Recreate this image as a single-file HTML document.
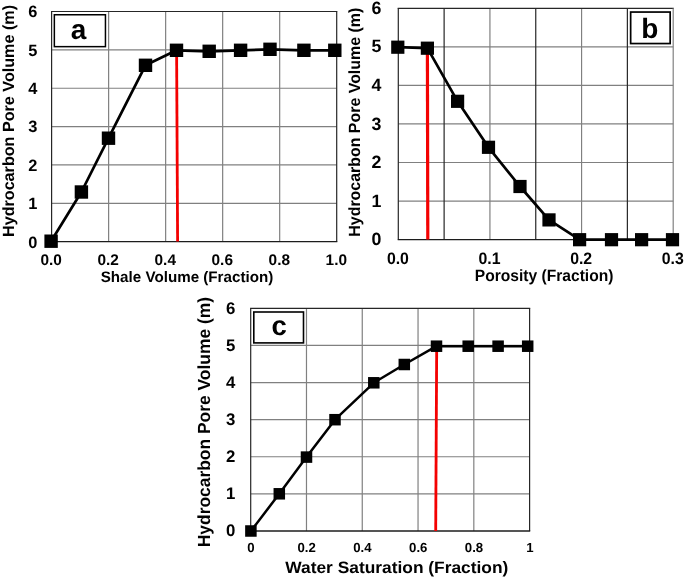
<!DOCTYPE html>
<html><head><meta charset="utf-8"><title>Figure</title>
<style>
html,body{margin:0;padding:0;background:#fff;}
body{width:685px;height:578px;overflow:hidden;}
svg{display:block;will-change:transform;opacity:0.999}
text{font-family:"Liberation Sans",sans-serif;font-weight:bold;fill:#000;text-rendering:geometricPrecision}
</style></head><body>
<svg width="685" height="578" viewBox="0 0 685 578">
<rect width="685" height="578" fill="#fff"/>

<g id="pa">
<line x1="51.6" x2="336.7" y1="203.33" y2="203.33" stroke="#808080" stroke-width="1.2"/>
<line x1="51.6" x2="336.7" y1="164.97" y2="164.97" stroke="#808080" stroke-width="1.2"/>
<line x1="51.6" x2="336.7" y1="126.60" y2="126.60" stroke="#808080" stroke-width="1.2"/>
<line x1="51.6" x2="336.7" y1="88.23" y2="88.23" stroke="#808080" stroke-width="1.2"/>
<line x1="51.6" x2="336.7" y1="49.87" y2="49.87" stroke="#808080" stroke-width="1.2"/>
<line x1="108.62" x2="108.62" y1="11.5" y2="241.7" stroke="#808080" stroke-width="1.2"/>
<line x1="165.64" x2="165.64" y1="11.5" y2="241.7" stroke="#808080" stroke-width="1.2"/>
<line x1="222.66" x2="222.66" y1="11.5" y2="241.7" stroke="#808080" stroke-width="1.2"/>
<line x1="279.68" x2="279.68" y1="11.5" y2="241.7" stroke="#808080" stroke-width="1.2"/>
<line x1="51.0" x2="337.3" y1="11.5" y2="11.5" stroke="#262626" stroke-width="1.2"/>
<line x1="336.7" x2="336.7" y1="11.5" y2="241.7" stroke="#262626" stroke-width="1.2"/>
<line x1="51.6" x2="51.6" y1="11.5" y2="241.7" stroke="#262626" stroke-width="1.2"/>
<line x1="51.0" x2="337.3" y1="241.7" y2="241.7" stroke="#1c1c1c" stroke-width="1.3"/>
<line x1="176.6" y1="50" x2="177.6" y2="241.5" stroke="#f40000" stroke-width="2.8"/>
<polyline points="51.1,241.2 81.4,192.0 108.5,138.2 145.5,65.3 176.5,50.3 209.2,51.3 240.6,50.3 270.0,49.3 303.9,50.3 334.8,50.3" fill="none" stroke="#000" stroke-width="2.7" stroke-linejoin="round"/>
<rect x="44.40" y="234.50" width="13.4" height="13.4" fill="#000"/>
<rect x="74.70" y="185.30" width="13.4" height="13.4" fill="#000"/>
<rect x="101.80" y="131.50" width="13.4" height="13.4" fill="#000"/>
<rect x="138.80" y="58.60" width="13.4" height="13.4" fill="#000"/>
<rect x="169.80" y="43.60" width="13.4" height="13.4" fill="#000"/>
<rect x="202.50" y="44.60" width="13.4" height="13.4" fill="#000"/>
<rect x="233.90" y="43.60" width="13.4" height="13.4" fill="#000"/>
<rect x="263.30" y="42.60" width="13.4" height="13.4" fill="#000"/>
<rect x="297.20" y="43.60" width="13.4" height="13.4" fill="#000"/>
<rect x="328.10" y="43.60" width="13.4" height="13.4" fill="#000"/>
<rect x="54.35" y="14.75" width="51.1" height="31.9" fill="#fff" stroke="#000" stroke-width="1.5"/>
<text transform="translate(70.78,38.50) scale(1.0000,1)" font-size="28">a</text>
<text transform="translate(28.20,247.50) scale(1.0000,1)" font-size="16.4">0</text>
<text transform="translate(28.20,209.13) scale(1.0000,1)" font-size="16.4">1</text>
<text transform="translate(28.20,170.77) scale(1.0000,1)" font-size="16.4">2</text>
<text transform="translate(28.20,132.40) scale(1.0000,1)" font-size="16.4">3</text>
<text transform="translate(28.20,94.03) scale(1.0000,1)" font-size="16.4">4</text>
<text transform="translate(28.20,55.67) scale(1.0000,1)" font-size="16.4">5</text>
<text transform="translate(28.20,17.30) scale(1.0000,1)" font-size="16.4">6</text>
<text transform="translate(40.50,265.30) scale(1.0000,1)" font-size="15.4">0.0</text>
<text transform="translate(97.52,265.30) scale(1.0000,1)" font-size="15.4">0.2</text>
<text transform="translate(154.54,265.30) scale(1.0000,1)" font-size="15.4">0.4</text>
<text transform="translate(211.56,265.30) scale(1.0000,1)" font-size="15.4">0.6</text>
<text transform="translate(268.58,265.30) scale(1.0000,1)" font-size="15.4">0.8</text>
<text transform="translate(325.60,265.30) scale(1.0000,1)" font-size="15.4">1.0</text>
<text transform="translate(100.70,281.70) scale(0.9991,1)" font-size="15.2">Shale Volume (Fraction)</text>
<text transform="translate(13.70,237.00) rotate(-90) scale(0.9973,1)" font-size="16.2">Hydrocarbon Pore Volume (m)</text>
</g>
<g id="pb">
<line x1="398.3" x2="673.2" y1="201.05" y2="201.05" stroke="#808080" stroke-width="1.2"/>
<line x1="398.3" x2="673.2" y1="162.50" y2="162.50" stroke="#808080" stroke-width="1.2"/>
<line x1="398.3" x2="673.2" y1="123.95" y2="123.95" stroke="#808080" stroke-width="1.2"/>
<line x1="398.3" x2="673.2" y1="85.40" y2="85.40" stroke="#808080" stroke-width="1.2"/>
<line x1="398.3" x2="673.2" y1="46.85" y2="46.85" stroke="#808080" stroke-width="1.2"/>
<line x1="444.12" x2="444.12" y1="8.3" y2="239.6" stroke="#262626" stroke-width="1.2"/>
<line x1="489.93" x2="489.93" y1="8.3" y2="239.6" stroke="#808080" stroke-width="1.2"/>
<line x1="535.75" x2="535.75" y1="8.3" y2="239.6" stroke="#262626" stroke-width="1.2"/>
<line x1="581.57" x2="581.57" y1="8.3" y2="239.6" stroke="#808080" stroke-width="1.2"/>
<line x1="627.38" x2="627.38" y1="8.3" y2="239.6" stroke="#262626" stroke-width="1.2"/>
<line x1="397.7" x2="673.8000000000001" y1="8.3" y2="8.3" stroke="#262626" stroke-width="1.2"/>
<line x1="673.2" x2="673.2" y1="8.3" y2="239.6" stroke="#808080" stroke-width="1.2"/>
<line x1="398.3" x2="398.3" y1="8.3" y2="239.6" stroke="#262626" stroke-width="1.2"/>
<line x1="397.7" x2="673.8000000000001" y1="239.6" y2="239.6" stroke="#1c1c1c" stroke-width="1.3"/>
<line x1="427.4" y1="48" x2="427.8" y2="239.6" stroke="#f40000" stroke-width="3.2"/>
<polyline points="397.8,47.2 427.4,48.2 457.6,101.3 488.5,147.3 520.0,186.5 549.0,219.9 579.6,239.7 611.5,239.7 641.6,239.7 672.5,239.7" fill="none" stroke="#000" stroke-width="2.7" stroke-linejoin="round"/>
<rect x="391.20" y="40.60" width="13.2" height="13.2" fill="#000"/>
<rect x="420.80" y="41.60" width="13.2" height="13.2" fill="#000"/>
<rect x="451.00" y="94.70" width="13.2" height="13.2" fill="#000"/>
<rect x="481.90" y="140.70" width="13.2" height="13.2" fill="#000"/>
<rect x="513.40" y="179.90" width="13.2" height="13.2" fill="#000"/>
<rect x="542.40" y="213.30" width="13.2" height="13.2" fill="#000"/>
<rect x="573.00" y="233.10" width="13.2" height="13.2" fill="#000"/>
<rect x="604.90" y="233.10" width="13.2" height="13.2" fill="#000"/>
<rect x="635.00" y="233.10" width="13.2" height="13.2" fill="#000"/>
<rect x="665.90" y="233.10" width="13.2" height="13.2" fill="#000"/>
<rect x="630.65" y="12.05" width="39.5" height="31.5" fill="#fff" stroke="#000" stroke-width="1.7"/>
<text transform="translate(641.31,37.50) scale(1.0000,1)" font-size="28">b</text>
<text transform="translate(371.62,245.20) scale(1.0000,1)" font-size="17.8">0</text>
<text transform="translate(371.62,206.65) scale(1.0000,1)" font-size="17.8">1</text>
<text transform="translate(371.62,168.10) scale(1.0000,1)" font-size="17.8">2</text>
<text transform="translate(371.62,129.55) scale(1.0000,1)" font-size="17.8">3</text>
<text transform="translate(371.62,91.00) scale(1.0000,1)" font-size="17.8">4</text>
<text transform="translate(371.62,52.45) scale(1.0000,1)" font-size="17.8">5</text>
<text transform="translate(371.62,13.90) scale(1.0000,1)" font-size="17.8">6</text>
<text transform="translate(386.88,264.30) scale(0.9550,1)" font-size="16.6">0.0</text>
<text transform="translate(478.52,264.30) scale(0.9550,1)" font-size="16.6">0.1</text>
<text transform="translate(570.15,264.30) scale(0.9550,1)" font-size="16.6">0.2</text>
<text transform="translate(661.78,264.30) scale(0.9550,1)" font-size="16.6">0.3</text>
<text transform="translate(474.80,280.80) scale(0.9513,1)" font-size="16.4">Porosity (Fraction)</text>
<text transform="translate(360.20,236.70) rotate(-90) scale(0.9840,1)" font-size="16.2">Hydrocarbon Pore Volume (m)</text>
</g>
<g id="pc">
<line x1="250.7" x2="529.6" y1="493.88" y2="493.88" stroke="#808080" stroke-width="1.2"/>
<line x1="250.7" x2="529.6" y1="456.77" y2="456.77" stroke="#808080" stroke-width="1.2"/>
<line x1="250.7" x2="529.6" y1="419.65" y2="419.65" stroke="#808080" stroke-width="1.2"/>
<line x1="250.7" x2="529.6" y1="382.53" y2="382.53" stroke="#808080" stroke-width="1.2"/>
<line x1="250.7" x2="529.6" y1="345.42" y2="345.42" stroke="#808080" stroke-width="1.2"/>
<line x1="306.48" x2="306.48" y1="308.3" y2="531.0" stroke="#808080" stroke-width="1.2"/>
<line x1="362.26" x2="362.26" y1="308.3" y2="531.0" stroke="#808080" stroke-width="1.2"/>
<line x1="418.04" x2="418.04" y1="308.3" y2="531.0" stroke="#808080" stroke-width="1.2"/>
<line x1="473.82" x2="473.82" y1="308.3" y2="531.0" stroke="#808080" stroke-width="1.2"/>
<line x1="250.1" x2="530.2" y1="308.3" y2="308.3" stroke="#262626" stroke-width="1.2"/>
<line x1="529.6" x2="529.6" y1="308.3" y2="531.0" stroke="#262626" stroke-width="1.2"/>
<line x1="250.7" x2="250.7" y1="308.3" y2="531.0" stroke="#262626" stroke-width="1.2"/>
<line x1="250.1" x2="530.2" y1="531.0" y2="531.0" stroke="#1c1c1c" stroke-width="1.3"/>
<line x1="436.7" y1="346" x2="435.7" y2="531" stroke="#f40000" stroke-width="2.8"/>
<polyline points="250.9,531.0 279.3,493.8 306.5,457.1 335.0,419.7 373.8,382.8 404.3,364.5 436.5,346.2 468.2,346.2 498.1,346.2 527.7,346.2" fill="none" stroke="#000" stroke-width="2.5" stroke-linejoin="round"/>
<rect x="245.15" y="525.25" width="11.5" height="11.5" fill="#000"/>
<rect x="273.55" y="488.05" width="11.5" height="11.5" fill="#000"/>
<rect x="300.75" y="451.35" width="11.5" height="11.5" fill="#000"/>
<rect x="329.25" y="413.95" width="11.5" height="11.5" fill="#000"/>
<rect x="368.05" y="377.05" width="11.5" height="11.5" fill="#000"/>
<rect x="398.55" y="358.75" width="11.5" height="11.5" fill="#000"/>
<rect x="430.75" y="340.45" width="11.5" height="11.5" fill="#000"/>
<rect x="462.45" y="340.45" width="11.5" height="11.5" fill="#000"/>
<rect x="492.35" y="340.45" width="11.5" height="11.5" fill="#000"/>
<rect x="521.95" y="340.45" width="11.5" height="11.5" fill="#000"/>
<rect x="253.8" y="312.0" width="49.7" height="30.9" fill="#fff" stroke="#000" stroke-width="1.6"/>
<text transform="translate(271.47,334.60) scale(1.0000,1)" font-size="27.5">c</text>
<text transform="translate(225.88,536.30) scale(1.0000,1)" font-size="16.8">0</text>
<text transform="translate(225.88,499.18) scale(1.0000,1)" font-size="16.8">1</text>
<text transform="translate(225.88,462.07) scale(1.0000,1)" font-size="16.8">2</text>
<text transform="translate(225.88,424.95) scale(1.0000,1)" font-size="16.8">3</text>
<text transform="translate(225.88,387.83) scale(1.0000,1)" font-size="16.8">4</text>
<text transform="translate(225.88,350.72) scale(1.0000,1)" font-size="16.8">5</text>
<text transform="translate(225.88,313.60) scale(1.0000,1)" font-size="16.8">6</text>
<text transform="translate(247.24,552.20) scale(1.0000,1)" font-size="13.2">0</text>
<text transform="translate(297.51,552.20) scale(1.0000,1)" font-size="13.2">0.2</text>
<text transform="translate(353.29,552.20) scale(1.0000,1)" font-size="13.2">0.4</text>
<text transform="translate(409.07,552.20) scale(1.0000,1)" font-size="13.2">0.6</text>
<text transform="translate(464.85,552.20) scale(1.0000,1)" font-size="13.2">0.8</text>
<text transform="translate(526.14,552.20) scale(1.0000,1)" font-size="13.2">1</text>
<text transform="translate(285.30,573.20) scale(1.0516,1)" font-size="16.5">Water Saturation (Fraction)</text>
<text transform="translate(209.60,547.20) rotate(-90) scale(0.9948,1)" font-size="17.5">Hydrocarbon Pore Volume (m)</text>
</g>
</svg></body></html>
